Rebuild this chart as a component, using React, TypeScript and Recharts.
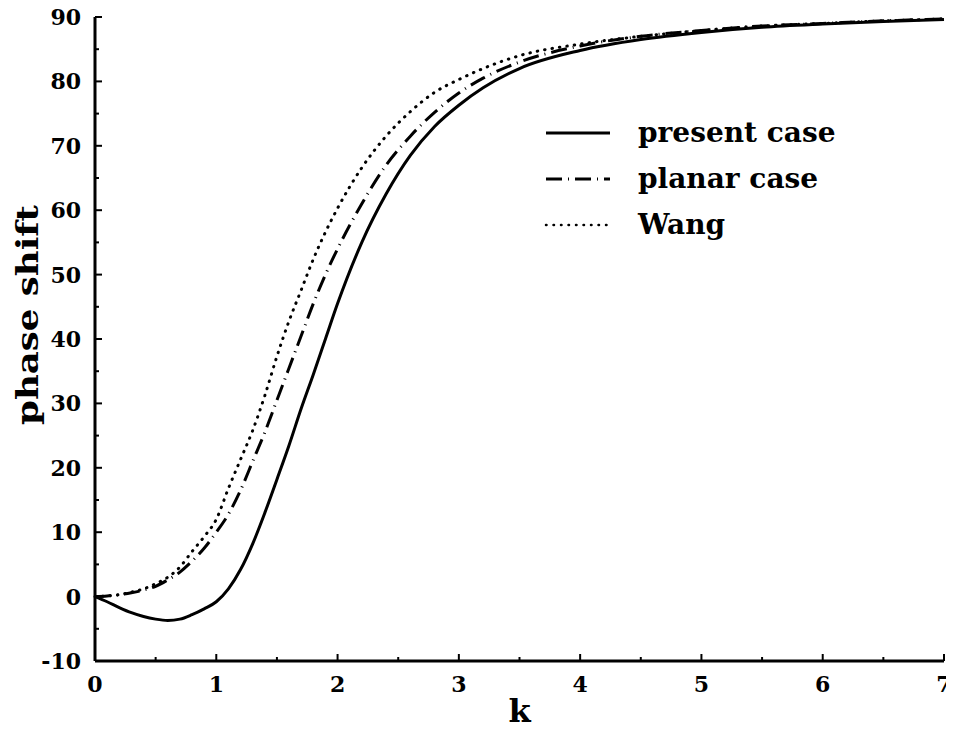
import React from 'react';
import { LineChart, Line, XAxis, YAxis } from 'recharts';

// wave number k
const kValues = [
  0, 0.1, 0.2, 0.3, 0.4, 0.5, 0.6, 0.7, 0.8, 0.9, 1.0, 1.1, 1.2, 1.3, 1.4, 1.5, 1.6, 1.7, 1.8, 1.9,
  2.0, 2.2, 2.4, 2.6, 2.8, 3.0, 3.2, 3.5, 4.0, 4.5, 5.0, 5.5, 6.0, 6.5, 7.0
];

const presentCase = [
  0, -0.8, -1.7, -2.5, -3.1, -3.5, -3.7, -3.5, -2.8, -1.9, -0.8, 1.2, 4.2, 8.2, 13, 18.2, 23.5, 29.2, 34.5, 40,
  45.5, 55, 62.5, 68.5, 73, 76.3, 79, 82, 84.8, 86.5, 87.6, 88.4, 88.9, 89.3, 89.6
];

const planarCase = [
  0, 0.1, 0.3, 0.6, 1.0, 1.6, 2.6, 3.8, 5.5, 7.5, 10, 12.8, 16.5, 21, 25.5, 30.5, 35.5, 40.5, 45.5, 50,
  54, 61, 67, 71.5, 75.2, 78.2, 80.5, 83, 85.5, 87, 87.9, 88.6, 89, 89.4, 89.7
];

const wang = [
  0, 0.1, 0.3, 0.7, 1.2, 2.0, 3.0, 4.6, 7, 9.3, 12, 16.8, 21.3, 25.8, 31.2, 37.3, 42.8, 47.6, 52.4, 56.6,
  60.3, 66.6, 71.5, 75.3, 78.3, 80.3, 82, 84, 85.8, 87, 87.9, 88.6, 89, 89.4, 89.7
];

const xTicks = [0, 0.5, 1, 1.5, 2, 2.5, 3, 3.5, 4, 4.5, 5, 5.5, 6, 6.5, 7];
const yTicks = [-10, -5, 0, 5, 10, 15, 20, 25, 30, 35, 40, 45, 50, 55, 60, 65, 70, 75, 80, 85, 90];

const data = kValues.map((k, i) => ({
  k,
  present: presentCase[i],
  planar: planarCase[i],
  wang: wang[i]
}));

const FONT = '"DejaVu Serif", serif';
const DASH_DOT = '16 6 1 6';
const DOTS = '0.5 7';

const isMajor = (v: number) => Number.isInteger(v);
const isMajorY = (v: number) => v % 10 === 0;

// bottom axis: inward tick + label
const BottomTick = (props: any) => {
  const { x, y, payload } = props;
  const major = isMajor(payload.value);
  return (
    <g>
      <line x1={x} x2={x} y1={y} y2={y - (major ? 7 : 4)} stroke="#000" strokeWidth={2} />
      {major && (
        <text x={x} y={y + 31} textAnchor="middle" fontFamily={FONT} fontWeight="bold" fontSize={22} fill="#000">
          {payload.value}
        </text>
      )}
    </g>
  );
};

const TopTick = (props: any) => {
  const { x, y, payload } = props;
  const major = isMajor(payload.value);
  return <line x1={x} x2={x} y1={y} y2={y + (major ? 7 : 4)} stroke="#000" strokeWidth={2} />;
};

const LeftTick = (props: any) => {
  const { x, y, payload } = props;
  const major = isMajorY(payload.value);
  return (
    <g>
      <line x1={x} x2={x + (major ? 7 : 4)} y1={y} y2={y} stroke="#000" strokeWidth={2} />
      {major && (
        <text x={x - 14} y={y + 8} textAnchor="end" fontFamily={FONT} fontWeight="bold" fontSize={22} fill="#000">
          {payload.value}
        </text>
      )}
    </g>
  );
};

const RightTick = (props: any) => {
  const { x, y, payload } = props;
  const major = isMajorY(payload.value);
  return <line x1={x} x2={x - (major ? 7 : 4)} y1={y} y2={y} stroke="#000" strokeWidth={2} />;
};

// rotated y label, sits a bit above the middle like the original
const YLabel = (props: any) => {
  const vb = props.viewBox || { x: 0, y: 0, width: 0, height: 0 };
  const cx = vb.x + 38;
  const cy = vb.y + vb.height / 2 - 24;
  return (
    <text
      x={cx}
      y={cy}
      transform={`rotate(-90 ${cx} ${cy})`}
      textAnchor="middle"
      fontFamily={FONT}
      fontWeight="bold"
      fontSize={30}
      textLength={220}
      lengthAdjust="spacingAndGlyphs"
      fill="#000"
    >
      phase shift
    </text>
  );
};

const legendItems = [
  { label: 'present case', dash: undefined },
  { label: 'planar case', dash: DASH_DOT },
  { label: 'Wang', dash: DOTS }
];

const LegendBox = () => (
  <div style={{ position: 'absolute', left: 542, top: 110, width: 340 }}>
    {legendItems.map(item => (
      <div key={item.label} style={{ display: 'flex', alignItems: 'center', height: 46 }}>
        <svg width={70} height={10} style={{ marginRight: 26 }}>
          <line
            x1={4}
            x2={68}
            y1={5}
            y2={5}
            stroke="#000"
            strokeWidth={item.dash === DOTS ? 2.5 : 3}
            strokeDasharray={item.dash}
            strokeLinecap={item.dash === DOTS ? 'round' : 'butt'}
          />
        </svg>
        <span style={{ fontFamily: FONT, fontWeight: 'bold', fontSize: 28, color: '#000', lineHeight: '30px' }}>
          {item.label}
        </span>
      </div>
    ))}
  </div>
);

export default function App() {
  return (
    <div style={{ position: 'relative', margin: -8, width: 954, height: 730, background: '#fff' }}>
      <LineChart width={954} height={730} data={data} margin={{ top: 17, right: 10, bottom: 0, left: 0 }}>
        <XAxis
          dataKey="k"
          type="number"
          domain={[0, 7]}
          ticks={xTicks}
          interval={0}
          tickSize={0}
          tickMargin={0}
          height={69}
          tick={<BottomTick />}
          axisLine={{ stroke: '#000', strokeWidth: 3 }}
          tickLine={false}
          label={{ value: 'k', position: 'insideBottom', offset: 8, style: { fontFamily: FONT, fontWeight: 'bold', fontSize: 32, fill: '#000' } }}
        />
        <XAxis
          xAxisId="top"
          orientation="top"
          dataKey="k"
          type="number"
          domain={[0, 7]}
          ticks={xTicks}
          interval={0}
          tickSize={0}
          tickMargin={0}
          height={0}
          tick={<TopTick />}
          axisLine={{ stroke: '#000', strokeWidth: 3 }}
          tickLine={false}
        />
        <YAxis
          type="number"
          domain={[-10, 90]}
          ticks={yTicks}
          interval={0}
          tickSize={0}
          tickMargin={0}
          width={95}
          tick={<LeftTick />}
          axisLine={{ stroke: '#000', strokeWidth: 3 }}
          tickLine={false}
          allowDataOverflow
          label={<YLabel />}
        />
        <YAxis
          yAxisId="right"
          orientation="right"
          type="number"
          domain={[-10, 90]}
          ticks={yTicks}
          interval={0}
          tickSize={0}
          tickMargin={0}
          width={0}
          tick={<RightTick />}
          axisLine={{ stroke: '#000', strokeWidth: 3 }}
          tickLine={false}
        />
        <Line
          type="monotone"
          dataKey="present"
          name="present case"
          stroke="#000"
          strokeWidth={3}
          dot={false}
          isAnimationActive={false}
        />
        <Line
          type="monotone"
          dataKey="planar"
          name="planar case"
          stroke="#000"
          strokeWidth={3}
          strokeDasharray={DASH_DOT}
          dot={false}
          isAnimationActive={false}
        />
        <Line
          type="monotone"
          dataKey="wang"
          name="Wang"
          stroke="#000"
          strokeWidth={3}
          strokeDasharray={DOTS}
          strokeLinecap="round"
          dot={false}
          isAnimationActive={false}
        />
      </LineChart>
      <LegendBox />
    </div>
  );
}
